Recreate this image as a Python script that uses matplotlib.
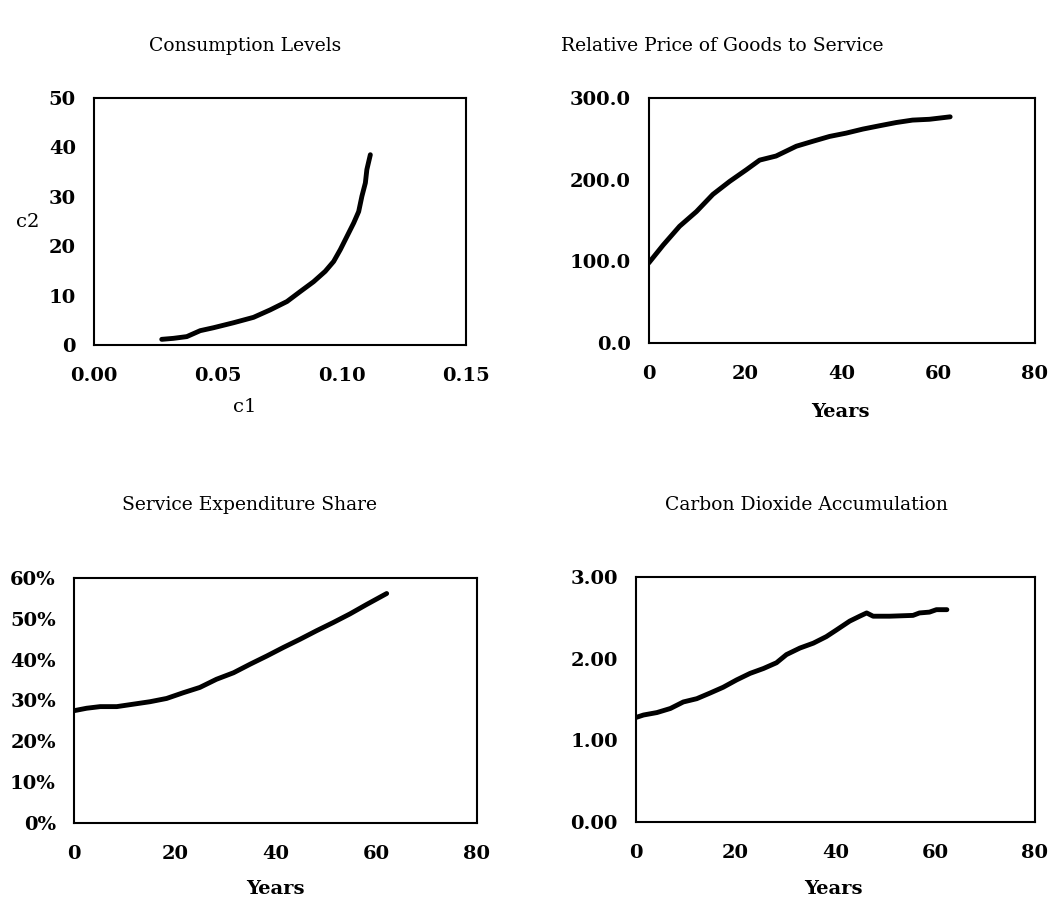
import matplotlib
matplotlib.use("Agg")
import matplotlib.pyplot as plt
from matplotlib.ticker import FuncFormatter

plt.rcParams['font.family'] = ['DejaVu Serif']

# Consumption levels (c1 vs c2)
c1 = [0.0273, 0.0320, 0.0374, 0.0428, 0.0482, 0.0562, 0.0643, 0.0710, 0.0778,
      0.0831, 0.0885, 0.0932, 0.0966, 0.0993, 0.1020, 0.1047, 0.1067, 0.1080,
      0.1094, 0.1100, 0.1114]
c2 = [1.15, 1.35, 1.7, 2.9, 3.5, 4.5, 5.6, 7.1, 8.8, 10.8, 12.8, 14.9, 16.9,
      19.3, 22.0, 24.7, 27.0, 30.1, 32.8, 35.5, 38.5]

# Relative price of goods to service
price_years = [0, 3.0, 6.4, 9.9, 13.3, 16.8, 20.2, 23.0, 26.4, 30.6, 34.0, 37.5,
               40.9, 44.4, 47.8, 51.3, 54.7, 58.2, 62.5]
price = [98, 120, 143, 161, 182, 198, 212, 224, 229, 241, 247, 253, 257, 262,
         266, 270, 273, 274, 277]

# Service expenditure share (%)
share_years = [0, 2.5, 5.2, 8.5, 11.8, 15.1, 18.4, 21.7, 25.0, 28.3, 31.7, 35.0,
               38.3, 41.6, 44.9, 48.2, 51.5, 54.8, 58.1, 62.1]
share = [27.5, 28.1, 28.5, 28.5, 29.1, 29.7, 30.5, 31.9, 33.2, 35.2, 36.8, 38.9,
         40.9, 43.0, 45.0, 47.1, 49.1, 51.2, 53.5, 56.2]

# Carbon dioxide accumulation
co2_years = [0, 1.5, 4.2, 6.9, 9.5, 12.2, 14.9, 17.5, 20.2, 22.9, 25.6, 28.2,
             30.2, 32.9, 35.6, 38.2, 40.2, 42.9, 44.9, 46.3, 47.6, 50.9, 55.6,
             56.9, 58.9, 60.3, 62.4]
co2 = [1.28, 1.31, 1.34, 1.39, 1.47, 1.51, 1.58, 1.65, 1.74, 1.82, 1.88, 1.95,
       2.05, 2.13, 2.19, 2.27, 2.35, 2.46, 2.52, 2.56, 2.52, 2.52, 2.53, 2.56,
       2.57, 2.60, 2.60]

fig = plt.figure(figsize=(10.6, 9.02), dpi=100)

ax1 = fig.add_axes([0.0887, 0.6175, 0.351, 0.274])
ax2 = fig.add_axes([0.612, 0.6197, 0.364, 0.2716])
ax3 = fig.add_axes([0.0698, 0.0876, 0.380, 0.2716])
ax4 = fig.add_axes([0.600, 0.0887, 0.376, 0.2716])

ax1.plot(c1, c2, color="black", lw=3.5, solid_capstyle="round", solid_joinstyle="round")
ax1.set_xlim(0, 0.15)
ax1.set_ylim(0, 50)
ax1.set_xticks([0, 0.05, 0.10, 0.15])
ax1.set_xticklabels(["0.00", "0.05", "0.10", "0.15"])
ax1.set_yticks([0, 10, 20, 30, 40, 50])

ax2.plot(price_years, price, color="black", lw=3.5, solid_capstyle="round", solid_joinstyle="round")
ax2.set_xlim(0, 80)
ax2.set_ylim(0, 300)
ax2.set_xticks([0, 20, 40, 60, 80])
ax2.set_yticks([0, 100, 200, 300])
ax2.yaxis.set_major_formatter(FuncFormatter(lambda v, p: f"{v:.1f}"))

ax3.plot(share_years, share, color="black", lw=3.5, solid_capstyle="round", solid_joinstyle="round")
ax3.set_xlim(0, 80)
ax3.set_ylim(0, 60)
ax3.set_xticks([0, 20, 40, 60, 80])
ax3.set_yticks([0, 10, 20, 30, 40, 50, 60])
ax3.yaxis.set_major_formatter(FuncFormatter(lambda v, p: f"{v:.0f}%"))

ax4.plot(co2_years, co2, color="black", lw=3.5, solid_capstyle="round", solid_joinstyle="round")
ax4.set_xlim(0, 80)
ax4.set_ylim(0, 3)
ax4.set_xticks([0, 20, 40, 60, 80])
ax4.set_yticks([0, 1, 2, 3])
ax4.yaxis.set_major_formatter(FuncFormatter(lambda v, p: f"{v:.2f}"))

for ax in [ax1, ax2, ax3, ax4]:
    for s in ax.spines.values():
        s.set_linewidth(1.5)
    ax.tick_params(axis="x", length=0, pad=16, labelsize=14)
    ax.tick_params(axis="y", length=0, pad=13, labelsize=14)
    for lab in ax.get_xticklabels() + ax.get_yticklabels():
        lab.set_fontweight("bold")

# titles and axis labels
fig.text(245 / 1060, 1 - 46 / 902, "Consumption Levels", ha="center", va="center", fontsize=13.5)
fig.text(722 / 1060, 1 - 46 / 902, "Relative Price of Goods to Service", ha="center", va="center", fontsize=13.5)
fig.text(249 / 1060, 1 - 505 / 902, "Service Expenditure Share", ha="center", va="center", fontsize=13.5)
fig.text(806 / 1060, 1 - 505 / 902, "Carbon Dioxide Accumulation", ha="center", va="center", fontsize=13.5)

fig.text(245 / 1060, 1 - 407 / 902, "c1", ha="center", va="center", fontsize=14)
fig.text(28 / 1060, 1 - 222 / 902, "c2", ha="center", va="center", fontsize=14)
fig.text(840 / 1060, 1 - 412 / 902, "Years", ha="center", va="center", fontsize=14, fontweight="bold")
fig.text(275 / 1060, 1 - 889 / 902, "Years", ha="center", va="center", fontsize=14, fontweight="bold")
fig.text(833 / 1060, 1 - 889 / 902, "Years", ha="center", va="center", fontsize=14, fontweight="bold")

fig.savefig("out.png", dpi=100)
